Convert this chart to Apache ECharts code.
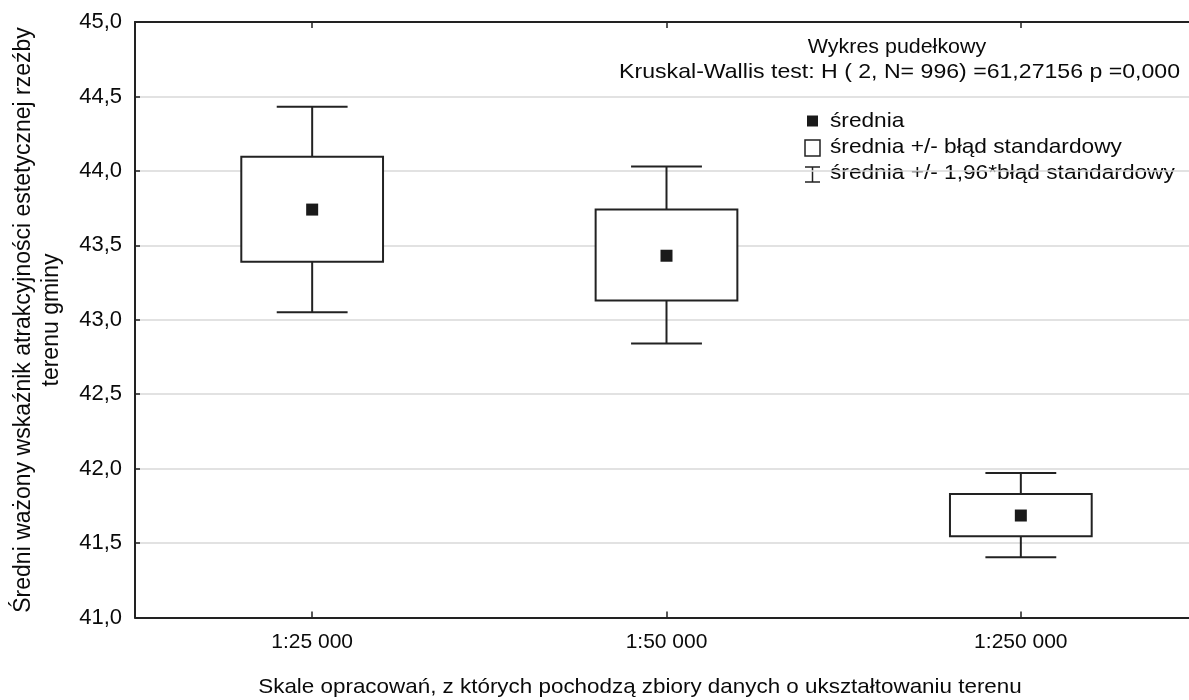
<!DOCTYPE html>
<html>
<head>
<meta charset="utf-8">
<script src="https://cdn.jsdelivr.net/npm/echarts@6/dist/echarts.min.js"></script>
<style>
html,body{margin:0;padding:0;background:#fff;overflow:hidden;width:1189px;height:700px;}
#chart{width:1198px;height:700px;}
</style>
</head>
<body>
<div id="chart"></div>
<script>
// ---- data ----
const categories = ['1:25 000', '1:50 000', '1:250 000'];
const means  = [43.74, 43.43, 41.685];
const seLow  = [43.39, 43.13, 41.545];
const seHigh = [44.095, 43.74, 41.83];
const ciLow  = [43.05, 42.84, 41.405];
const ciHigh = [44.43, 44.03, 41.97];
const yTicks = { min: 41, max: 45, interval: 0.5 };

const titleText = 'Wykres pudełkowy';
const statsText = 'Kruskal-Wallis test: H ( 2, N= 996) =61,27156 p =0,000';
const legendTexts = ['średnia', 'średnia +/- błąd standardowy', 'średnia +/- 1,96*błąd standardowy'];
const xTitle = 'Skale opracowań, z których pochodzą zbiory danych o ukształtowaniu terenu';
const yTitle = ['Średni ważony wskaźnik atrakcyjności estetycznej rzeźby', 'terenu gminy'];

const FONT = '"Liberation Sans", Arial, Helvetica, sans-serif';
const INK = '#222';
const TXT = '#0a0a0a';

const boxData = categories.map((c, i) => [i, ciLow[i], seLow[i], means[i], seHigh[i], ciHigh[i]]);

function renderBox(params, api) {
  const i = api.value(0);
  const band = api.size([1, 0])[0];
  const boxW = band * 0.4, capW = band * 0.2;
  const pLo = api.coord([i, api.value(1)]);
  const pSeLo = api.coord([i, api.value(2)]);
  const pMean = api.coord([i, api.value(3)]);
  const pSeHi = api.coord([i, api.value(4)]);
  const pHi = api.coord([i, api.value(5)]);
  const x = pMean[0];
  const ls = { stroke: INK, lineWidth: 2, fill: null };
  return {
    type: 'group',
    children: [
      { type: 'line', shape: { x1: x, y1: pHi[1], x2: x, y2: pSeHi[1] }, style: ls },
      { type: 'line', shape: { x1: x, y1: pSeLo[1], x2: x, y2: pLo[1] }, style: ls },
      { type: 'line', shape: { x1: x - capW / 2, y1: pHi[1], x2: x + capW / 2, y2: pHi[1] }, style: ls },
      { type: 'line', shape: { x1: x - capW / 2, y1: pLo[1], x2: x + capW / 2, y2: pLo[1] }, style: ls },
      { type: 'rect', shape: { x: x - boxW / 2, y: pSeHi[1], width: boxW, height: pSeLo[1] - pSeHi[1] },
        style: { stroke: INK, lineWidth: 2, fill: '#fff' } },
      { type: 'rect', shape: { x: x - 6, y: pMean[1] - 6, width: 12, height: 12 },
        style: { fill: '#1a1a1a', stroke: null } }
    ]
  };
}

function stretchedText(x, y, text, align, sx, size) {
  return {
    type: 'text', x: x, y: y, scaleX: sx, silent: true,
    style: { text: text, x: 0, y: 0, align: align, verticalAlign: 'middle',
             fontSize: size, fontFamily: FONT, fill: TXT }
  };
}

const chart = echarts.init(document.getElementById('chart'));
chart.setOption({
  animation: false,
  backgroundColor: '#fff',
  grid: { left: 135, top: 22, bottom: 82.5, right: 0, containLabel: false },
  xAxis: [
    {
      type: 'category', data: categories, position: 'bottom',
      axisLine: { show: true, lineStyle: { color: INK, width: 2 } },
      axisTick: { show: true, inside: true, alignWithLabel: true, length: 6, lineStyle: { color: INK, width: 1.5 } },
      axisLabel: { color: TXT, fontSize: 21, fontFamily: FONT, margin: 14 },
      splitLine: { show: false }
    },
    {
      type: 'category', data: categories, position: 'top',
      axisLine: { show: true, lineStyle: { color: INK, width: 2 } },
      axisTick: { show: true, inside: true, alignWithLabel: true, length: 6, lineStyle: { color: INK, width: 1.5 } },
      axisLabel: { show: false },
      splitLine: { show: false }
    }
  ],
  yAxis: {
    type: 'value', min: yTicks.min, max: yTicks.max, interval: yTicks.interval,
    axisLine: { show: true, lineStyle: { color: INK, width: 2 } },
    axisTick: { show: true, inside: true, length: 5, lineStyle: { color: INK, width: 1.5 } },
    axisLabel: { color: TXT, fontSize: 22, fontFamily: FONT, margin: 13,
                 formatter: v => v.toFixed(1).replace('.', ',') },
    splitLine: { show: true, lineStyle: { color: '#d9d9d9', width: 1.5 } }
  },
  series: [{
    type: 'custom', renderItem: renderBox, data: boxData,
    encode: { x: 0, y: [1, 2, 3, 4, 5] }, z: 5
  }],
  graphic: [
    stretchedText(897, 47, titleText, 'center', 1.02, 21),
    stretchedText(1180, 72, statsText, 'right', 1.1, 21),
    // legend icons
    { type: 'rect', silent: true, shape: { x: 807, y: 115.5, width: 11, height: 11 }, style: { fill: '#1a1a1a' } },
    { type: 'rect', silent: true, shape: { x: 805, y: 140, width: 15, height: 16 }, style: { fill: '#fff', stroke: INK, lineWidth: 1.5 } },
    { type: 'line', silent: true, shape: { x1: 812.5, y1: 167, x2: 812.5, y2: 182 }, style: { stroke: INK, lineWidth: 1.5 } },
    { type: 'line', silent: true, shape: { x1: 805, y1: 167, x2: 820, y2: 167 }, style: { stroke: INK, lineWidth: 1.5 } },
    { type: 'line', silent: true, shape: { x1: 805, y1: 182, x2: 820, y2: 182 }, style: { stroke: INK, lineWidth: 1.5 } },
    stretchedText(830, 121, legendTexts[0], 'left', 1.08, 21),
    stretchedText(830, 147, legendTexts[1], 'left', 1.08, 21),
    stretchedText(830, 173, legendTexts[2], 'left', 1.08, 21),
    // axis titles
    stretchedText(640, 687, xTitle, 'center', 1.067, 21),
    {
      type: 'text', x: 38, y: 320, rotation: Math.PI / 2, silent: true,
      style: { text: yTitle.join('\n'), x: 0, y: 0, align: 'center', verticalAlign: 'middle',
               fontSize: 23, fontFamily: FONT, fill: TXT, lineHeight: 28 }
    }
  ]
});
</script>
</body>
</html>
